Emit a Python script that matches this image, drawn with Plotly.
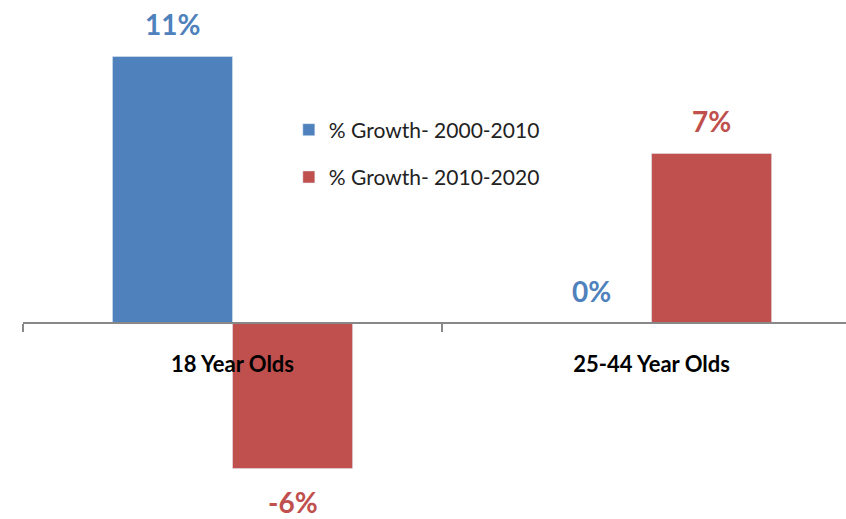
import plotly.graph_objects as go

categories = ["18 Year Olds", "25-44 Year Olds"]
growth_2000_2010 = [11, 0]
growth_2010_2020 = [-6, 7]
series_names = ["% Growth- 2000-2010", "% Growth- 2010-2020"]
colors = ["#4F81BD", "#C0504D"]

FONT = "Lato, 'Open Sans', sans-serif"
Y_RANGE = [-8.08, 13.33]

fig = go.Figure()
for name, vals, col, grp in zip(series_names, [growth_2000_2010, growth_2010_2020], colors, ["a", "b"]):
    fig.add_trace(go.Bar(x=categories, y=vals, name=name, marker_color=col,
                         legendgroup=grp, hoverinfo="skip"))

# value labels
bargap = 0.427
bw = (1 - bargap) / 2
for k, (vals, col) in enumerate(zip([growth_2000_2010, growth_2010_2020], colors)):
    off = (k - 0.5) * bw
    for i, v in enumerate(vals):
        fig.add_annotation(x=i + off, y=v, text=f"<b>{v}%</b>", showarrow=False,
                           yshift=32 if v >= 0 else -33,
                           font=dict(family=FONT, size=28, color=col))

zero_pos = (0 - Y_RANGE[0]) / (Y_RANGE[1] - Y_RANGE[0])

fig.update_layout(
    width=846, height=519,
    margin=dict(l=23, r=0, t=0, b=0, autoexpand=False),
    paper_bgcolor="white", plot_bgcolor="white",
    barmode="group", bargap=bargap, bargroupgap=0,
    showlegend=True,
    legend=dict(x=0.323, y=0.789, xanchor="left", yanchor="top",
                font=dict(family=FONT, size=21, color="#222"),
                tracegroupgap=17, bgcolor="rgba(0,0,0,0)"),
    xaxis=dict(type="category", range=[-0.5, 1.464],
               tickvals=categories, ticktext=[f"<b>{c}</b>" for c in categories],
               anchor="free", position=zero_pos, automargin=False,
               tickson="boundaries", ticks="outside", ticklen=8, tickcolor="#888", tickwidth=2,
               showline=True, linecolor="#888", linewidth=2,
               showgrid=False, zeroline=False,
               tickfont=dict(family=FONT, size=22, color="black"), ticklabelstandoff=21),
    yaxis=dict(range=Y_RANGE, visible=False, zeroline=False, showgrid=False),
)
fig.write_html("out.html")
